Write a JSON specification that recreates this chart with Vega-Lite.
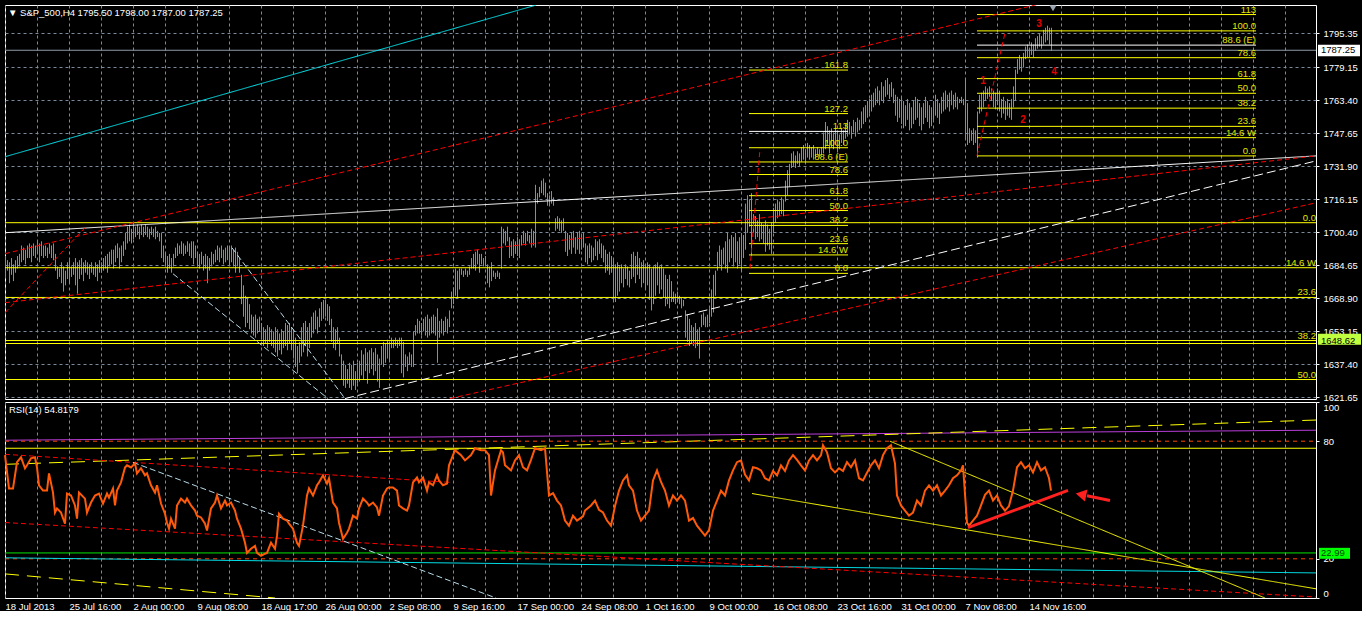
{
"$schema":"https://vega.github.io/schema/vega-lite/v6.json",
"background":"#000000",
"padding":{"left":0,"top":4,"right":0,"bottom":0},
"spacing":3,
"bounds":"flush",
"config":{
 "view":{"stroke":"#ffffff","strokeWidth":1},
 "axis":{"labelFont":"Liberation Sans","labelFontSize":9.5,"labelColor":"#ffffff","tickColor":"#ffffff","domain":false,"title":null,"gridColor":"#7a8a9a","gridDash":[3,3],"gridWidth":1,"gridOpacity":1},
 "text":{"font":"Liberation Sans","fontSize":9.5}
},
"datasets":{
"bars":[{"i":0,"p":1679,"h":1689},{"i":1,"p":1682,"h":1687},{"i":2,"p":1676,"h":1686},{"i":3,"p":1680,"h":1688},{"i":4,"p":1677,"h":1685},{"i":5,"p":1681,"h":1687},{"i":6,"p":1683,"h":1689},{"i":7,"p":1684,"h":1690},{"i":8,"p":1686,"h":1694},{"i":9,"p":1687,"h":1693},
{"i":10,"p":1685,"h":1692},{"i":11,"p":1688,"h":1694},{"i":12,"p":1688,"h":1695},{"i":13,"p":1686,"h":1694},{"i":14,"p":1689,"h":1695},{"i":15,"p":1688,"h":1694},{"i":16,"p":1690,"h":1696},{"i":17,"p":1686,"h":1695},{"i":18,"p":1689,"h":1696},{"i":19,"p":1688,"h":1694},
{"i":20,"p":1689,"h":1694},{"i":21,"p":1688,"h":1693},{"i":22,"p":1690,"h":1695},{"i":23,"p":1688,"h":1694},{"i":24,"p":1687,"h":1695},{"i":25,"p":1682,"h":1690},{"i":26,"p":1678,"h":1684},{"i":27,"p":1679,"h":1683},{"i":28,"p":1676,"h":1686},{"i":29,"p":1672,"h":1684},
{"i":30,"p":1675,"h":1682},{"i":31,"p":1678,"h":1686},{"i":32,"p":1676,"h":1687},{"i":33,"p":1679,"h":1684},{"i":34,"p":1680,"h":1686},{"i":35,"p":1675,"h":1688},{"i":36,"p":1671,"h":1686},{"i":37,"p":1678,"h":1687},{"i":38,"p":1680,"h":1688},{"i":39,"p":1677,"h":1686},
{"i":40,"p":1681,"h":1687},{"i":41,"p":1680,"h":1686},{"i":42,"p":1678,"h":1685},{"i":43,"p":1681,"h":1686},{"i":44,"p":1680,"h":1684},{"i":45,"p":1679,"h":1686},{"i":46,"p":1677,"h":1685},{"i":47,"p":1681,"h":1687},{"i":48,"p":1681,"h":1686},{"i":49,"p":1682,"h":1688},
{"i":50,"p":1683,"h":1689},{"i":51,"p":1681,"h":1690},{"i":52,"p":1684,"h":1691},{"i":53,"p":1685,"h":1692},{"i":54,"p":1683,"h":1692},{"i":55,"p":1686,"h":1694},{"i":56,"p":1688,"h":1695},{"i":57,"p":1683,"h":1693},{"i":58,"p":1686,"h":1694},{"i":59,"p":1689,"h":1696},
{"i":60,"p":1692,"h":1700},{"i":61,"p":1695,"h":1703},{"i":62,"p":1696,"h":1704},{"i":63,"p":1695,"h":1702},{"i":64,"p":1697,"h":1704},{"i":65,"p":1698,"h":1703},{"i":66,"p":1699,"h":1704},{"i":67,"p":1697,"h":1703},{"i":68,"p":1699,"h":1704},{"i":69,"p":1698,"h":1703},
{"i":70,"p":1699,"h":1704},{"i":71,"p":1698,"h":1703},{"i":72,"p":1697,"h":1702},{"i":73,"p":1699,"h":1703},{"i":74,"p":1698,"h":1702},{"i":75,"p":1697,"h":1703},{"i":76,"p":1698,"h":1701},{"i":77,"p":1696,"h":1700},{"i":78,"p":1688,"h":1700},{"i":79,"p":1686,"h":1694},
{"i":80,"p":1684,"h":1690},{"i":81,"p":1681,"h":1689},{"i":82,"p":1683,"h":1690},{"i":83,"p":1681,"h":1688},{"i":84,"p":1684,"h":1690},{"i":85,"p":1688,"h":1693},{"i":86,"p":1689,"h":1695},{"i":87,"p":1690,"h":1694},{"i":88,"p":1690,"h":1696},{"i":89,"p":1689,"h":1695},
{"i":90,"p":1690,"h":1694},{"i":91,"p":1691,"h":1696},{"i":92,"p":1689,"h":1695},{"i":93,"p":1688,"h":1696},{"i":94,"p":1685,"h":1696},{"i":95,"p":1688,"h":1694},{"i":96,"p":1684,"h":1691},{"i":97,"p":1683,"h":1690},{"i":98,"p":1685,"h":1691},{"i":99,"p":1682,"h":1689},
{"i":100,"p":1683,"h":1690},{"i":101,"p":1676,"h":1689},{"i":102,"p":1682,"h":1688},{"i":103,"p":1684,"h":1691},{"i":104,"p":1685,"h":1690},{"i":105,"p":1686,"h":1692},{"i":106,"p":1687,"h":1694},{"i":107,"p":1686,"h":1693},{"i":108,"p":1688,"h":1694},{"i":109,"p":1685,"h":1692},
{"i":110,"p":1686,"h":1693},{"i":111,"p":1687,"h":1694},{"i":112,"p":1685,"h":1693},{"i":113,"p":1686,"h":1694},{"i":114,"p":1684,"h":1692},{"i":115,"p":1681,"h":1693},{"i":116,"p":1684,"h":1691},{"i":117,"p":1681,"h":1688},{"i":118,"p":1666,"h":1680},{"i":119,"p":1660,"h":1675},
{"i":120,"p":1655,"h":1670},{"i":121,"p":1657,"h":1669},{"i":122,"p":1654,"h":1666},{"i":123,"p":1652,"h":1661},{"i":124,"p":1651,"h":1660},{"i":125,"p":1650,"h":1661},{"i":126,"p":1652,"h":1659},{"i":127,"p":1653,"h":1660},{"i":128,"p":1649,"h":1657},{"i":129,"p":1646,"h":1655},
{"i":130,"p":1647,"h":1654},{"i":131,"p":1645,"h":1656},{"i":132,"p":1648,"h":1655},{"i":133,"p":1646,"h":1654},{"i":134,"p":1645,"h":1653},{"i":135,"p":1643,"h":1655},{"i":136,"p":1641,"h":1654},{"i":137,"p":1644,"h":1652},{"i":138,"p":1642,"h":1654},{"i":139,"p":1645,"h":1653},
{"i":140,"p":1646,"h":1657},{"i":141,"p":1644,"h":1656},{"i":142,"p":1647,"h":1657},{"i":143,"p":1644,"h":1655},{"i":144,"p":1640,"h":1654},{"i":145,"p":1636,"h":1650},{"i":146,"p":1633,"h":1646},{"i":147,"p":1638,"h":1648},{"i":148,"p":1641,"h":1655},{"i":149,"p":1643,"h":1657},
{"i":150,"p":1646,"h":1658},{"i":151,"p":1641,"h":1655},{"i":152,"p":1645,"h":1657},{"i":153,"p":1650,"h":1660},{"i":154,"p":1652,"h":1662},{"i":155,"p":1654,"h":1663},{"i":156,"p":1652,"h":1660},{"i":157,"p":1655,"h":1664},{"i":158,"p":1658,"h":1667},{"i":159,"p":1659,"h":1668},
{"i":160,"p":1660,"h":1668},{"i":161,"p":1658,"h":1666},{"i":162,"p":1656,"h":1665},{"i":163,"p":1648,"h":1659},{"i":164,"p":1645,"h":1655},{"i":165,"p":1644,"h":1654},{"i":166,"p":1647,"h":1655},{"i":167,"p":1641,"h":1650},{"i":168,"p":1630,"h":1642},{"i":169,"p":1627,"h":1639},
{"i":170,"p":1626,"h":1637},{"i":171,"p":1628,"h":1635},{"i":172,"p":1626,"h":1638},{"i":173,"p":1625,"h":1637},{"i":174,"p":1627,"h":1639},{"i":175,"p":1625,"h":1634},{"i":176,"p":1628,"h":1638},{"i":177,"p":1629,"h":1639},{"i":178,"p":1632,"h":1644},{"i":179,"p":1630,"h":1642},
{"i":180,"p":1634,"h":1645},{"i":181,"p":1628,"h":1643},{"i":182,"p":1633,"h":1644},{"i":183,"p":1635,"h":1645},{"i":184,"p":1632,"h":1643},{"i":185,"p":1634,"h":1645},{"i":186,"p":1629,"h":1642},{"i":187,"p":1626,"h":1640},{"i":188,"p":1637,"h":1646},{"i":189,"p":1636,"h":1648},
{"i":190,"p":1638,"h":1647},{"i":191,"p":1640,"h":1649},{"i":192,"p":1639,"h":1648},{"i":193,"p":1645,"h":1650},{"i":194,"p":1645,"h":1649},{"i":195,"p":1646,"h":1650},{"i":196,"p":1645,"h":1649},{"i":197,"p":1646,"h":1650},{"i":198,"p":1633,"h":1650},{"i":199,"p":1631,"h":1648},
{"i":200,"p":1636,"h":1642},{"i":201,"p":1634,"h":1641},{"i":202,"p":1637,"h":1643},{"i":203,"p":1636,"h":1642},{"i":204,"p":1636,"h":1653},{"i":205,"p":1651,"h":1656},{"i":206,"p":1652,"h":1659},{"i":207,"p":1652,"h":1658},{"i":208,"p":1651,"h":1657},{"i":209,"p":1653,"h":1659},
{"i":210,"p":1651,"h":1660},{"i":211,"p":1650,"h":1661},{"i":212,"p":1651,"h":1659},{"i":213,"p":1652,"h":1660},{"i":214,"p":1652,"h":1661},{"i":215,"p":1651,"h":1660},{"i":216,"p":1638,"h":1664},{"i":217,"p":1650,"h":1658},{"i":218,"p":1652,"h":1659},{"i":219,"p":1651,"h":1658},
{"i":220,"p":1653,"h":1660},{"i":221,"p":1652,"h":1659},{"i":222,"p":1655,"h":1663},{"i":223,"p":1664,"h":1672},{"i":224,"p":1666,"h":1674},{"i":225,"p":1670,"h":1683},{"i":226,"p":1669,"h":1682},{"i":227,"p":1673,"h":1683},{"i":228,"p":1680,"h":1683},{"i":229,"p":1679,"h":1682},
{"i":230,"p":1680,"h":1683},{"i":231,"p":1679,"h":1682},{"i":232,"p":1680,"h":1684},{"i":233,"p":1683,"h":1688},{"i":234,"p":1683,"h":1690},{"i":235,"p":1682,"h":1691},{"i":236,"p":1685,"h":1692},{"i":237,"p":1681,"h":1690},{"i":238,"p":1685,"h":1690},{"i":239,"p":1684,"h":1688},
{"i":240,"p":1685,"h":1689},{"i":241,"p":1676,"h":1685},{"i":242,"p":1674,"h":1684},{"i":243,"p":1677,"h":1686},{"i":244,"p":1679,"h":1682},{"i":245,"p":1678,"h":1681},{"i":246,"p":1679,"h":1682},{"i":247,"p":1678,"h":1681},{"i":248,"p":1683,"h":1703},{"i":249,"p":1695,"h":1702},
{"i":250,"p":1694,"h":1701},{"i":251,"p":1696,"h":1703},{"i":252,"p":1688,"h":1698},{"i":253,"p":1689,"h":1696},{"i":254,"p":1688,"h":1697},{"i":255,"p":1690,"h":1696},{"i":256,"p":1689,"h":1698},{"i":257,"p":1688,"h":1697},{"i":258,"p":1694,"h":1699},{"i":259,"p":1695,"h":1701},
{"i":260,"p":1694,"h":1700},{"i":261,"p":1696,"h":1701},{"i":262,"p":1695,"h":1699},{"i":263,"p":1693,"h":1702},{"i":264,"p":1694,"h":1701},{"i":265,"p":1693,"h":1723},{"i":266,"p":1714,"h":1719},{"i":267,"p":1717,"h":1722},{"i":268,"p":1719,"h":1725},{"i":269,"p":1718,"h":1726},
{"i":270,"p":1717,"h":1724},{"i":271,"p":1713,"h":1719},{"i":272,"p":1713,"h":1718},{"i":273,"p":1714,"h":1720},{"i":274,"p":1713,"h":1717},{"i":275,"p":1701,"h":1707},{"i":276,"p":1702,"h":1708},{"i":277,"p":1701,"h":1707},{"i":278,"p":1700,"h":1706},{"i":279,"p":1701,"h":1707},
{"i":280,"p":1691,"h":1701},{"i":281,"p":1689,"h":1700},{"i":282,"p":1692,"h":1699},{"i":283,"p":1690,"h":1700},{"i":284,"p":1693,"h":1701},{"i":285,"p":1690,"h":1698},{"i":286,"p":1692,"h":1700},{"i":287,"p":1690,"h":1701},{"i":288,"p":1692,"h":1699},{"i":289,"p":1693,"h":1700},
{"i":290,"p":1686,"h":1695},{"i":291,"p":1685,"h":1694},{"i":292,"p":1688,"h":1695},{"i":293,"p":1686,"h":1694},{"i":294,"p":1687,"h":1693},{"i":295,"p":1689,"h":1697},{"i":296,"p":1687,"h":1696},{"i":297,"p":1690,"h":1697},{"i":298,"p":1688,"h":1695},{"i":299,"p":1686,"h":1694},
{"i":300,"p":1681,"h":1692},{"i":301,"p":1682,"h":1690},{"i":302,"p":1680,"h":1691},{"i":303,"p":1681,"h":1689},{"i":304,"p":1668,"h":1687},{"i":305,"p":1667,"h":1685},{"i":306,"p":1670,"h":1686},{"i":307,"p":1672,"h":1684},{"i":308,"p":1676,"h":1685},{"i":309,"p":1674,"h":1683},
{"i":310,"p":1678,"h":1685},{"i":311,"p":1675,"h":1684},{"i":312,"p":1674,"h":1682},{"i":313,"p":1678,"h":1690},{"i":314,"p":1679,"h":1691},{"i":315,"p":1676,"h":1689},{"i":316,"p":1680,"h":1691},{"i":317,"p":1678,"h":1688},{"i":318,"p":1674,"h":1686},{"i":319,"p":1676,"h":1687},
{"i":320,"p":1673,"h":1685},{"i":321,"p":1675,"h":1686},{"i":322,"p":1668,"h":1685},{"i":323,"p":1663,"h":1683},{"i":324,"p":1666,"h":1684},{"i":325,"p":1670,"h":1685},{"i":326,"p":1675,"h":1686},{"i":327,"p":1671,"h":1684},{"i":328,"p":1673,"h":1685},{"i":329,"p":1669,"h":1683},
{"i":330,"p":1665,"h":1680},{"i":331,"p":1666,"h":1678},{"i":332,"p":1664,"h":1680},{"i":333,"p":1667,"h":1677},{"i":334,"p":1667,"h":1672},{"i":335,"p":1666,"h":1671},{"i":336,"p":1667,"h":1672},{"i":337,"p":1666,"h":1670},{"i":338,"p":1664,"h":1669},{"i":339,"p":1665,"h":1668},
{"i":340,"p":1650,"h":1663},{"i":341,"p":1648,"h":1661},{"i":342,"p":1646,"h":1659},{"i":343,"p":1647,"h":1656},{"i":344,"p":1646,"h":1655},{"i":345,"p":1645,"h":1657},{"i":346,"p":1646,"h":1654},{"i":347,"p":1640,"h":1655},{"i":348,"p":1655,"h":1661},{"i":349,"p":1656,"h":1662},
{"i":350,"p":1655,"h":1660},{"i":351,"p":1655,"h":1661},{"i":352,"p":1657,"h":1664},{"i":353,"p":1660,"h":1673},{"i":354,"p":1662,"h":1680},{"i":355,"p":1670,"h":1682},{"i":356,"p":1682,"h":1691},{"i":357,"p":1684,"h":1694},{"i":358,"p":1682,"h":1692},{"i":359,"p":1685,"h":1693},
{"i":360,"p":1683,"h":1696},{"i":361,"p":1681,"h":1700},{"i":362,"p":1686,"h":1697},{"i":363,"p":1688,"h":1699},{"i":364,"p":1684,"h":1698},{"i":365,"p":1686,"h":1700},{"i":366,"p":1683,"h":1696},{"i":367,"p":1685,"h":1698},{"i":368,"p":1682,"h":1700},{"i":369,"p":1688,"h":1699},
{"i":370,"p":1692,"h":1714},{"i":371,"p":1700,"h":1718},{"i":372,"p":1703,"h":1716},{"i":373,"p":1689,"h":1719},{"i":374,"p":1700,"h":1709},{"i":375,"p":1697,"h":1708},{"i":376,"p":1698,"h":1706},{"i":377,"p":1696,"h":1709},{"i":378,"p":1697,"h":1705},{"i":379,"p":1695,"h":1704},
{"i":380,"p":1691,"h":1706},{"i":381,"p":1694,"h":1704},{"i":382,"p":1692,"h":1702},{"i":383,"p":1690,"h":1705},{"i":384,"p":1700,"h":1712},{"i":385,"p":1705,"h":1714},{"i":386,"p":1707,"h":1716},{"i":387,"p":1708,"h":1715},{"i":388,"p":1709,"h":1717},{"i":389,"p":1708,"h":1716},
{"i":390,"p":1715,"h":1725},{"i":391,"p":1718,"h":1730},{"i":392,"p":1722,"h":1733},{"i":393,"p":1731,"h":1738},{"i":394,"p":1732,"h":1739},{"i":395,"p":1731,"h":1737},{"i":396,"p":1733,"h":1739},{"i":397,"p":1732,"h":1738},{"i":398,"p":1734,"h":1741},{"i":399,"p":1735,"h":1742},
{"i":400,"p":1734,"h":1740},{"i":401,"p":1736,"h":1743},{"i":402,"p":1735,"h":1742},{"i":403,"p":1736,"h":1741},{"i":404,"p":1735,"h":1742},{"i":405,"p":1736,"h":1740},{"i":406,"p":1737,"h":1741},{"i":407,"p":1736,"h":1740},{"i":408,"p":1737,"h":1741},{"i":409,"p":1738,"h":1748},
{"i":410,"p":1740,"h":1753},{"i":411,"p":1743,"h":1751},{"i":412,"p":1738,"h":1749},{"i":413,"p":1741,"h":1750},{"i":414,"p":1740,"h":1748},{"i":415,"p":1742,"h":1750},{"i":416,"p":1739,"h":1749},{"i":417,"p":1740,"h":1747},{"i":418,"p":1743,"h":1750},{"i":419,"p":1742,"h":1749},
{"i":420,"p":1745,"h":1752},{"i":421,"p":1746,"h":1754},{"i":422,"p":1747,"h":1753},{"i":423,"p":1745,"h":1751},{"i":424,"p":1748,"h":1754},{"i":425,"p":1746,"h":1753},{"i":426,"p":1748,"h":1755},{"i":427,"p":1749,"h":1754},{"i":428,"p":1750,"h":1758},{"i":429,"p":1752,"h":1760},
{"i":430,"p":1753,"h":1761},{"i":431,"p":1755,"h":1763},{"i":432,"p":1757,"h":1764},{"i":433,"p":1758,"h":1766},{"i":434,"p":1760,"h":1767},{"i":435,"p":1761,"h":1769},{"i":436,"p":1762,"h":1770},{"i":437,"p":1761,"h":1768},{"i":438,"p":1763,"h":1772},{"i":439,"p":1762,"h":1770},
{"i":440,"p":1765,"h":1773},{"i":441,"p":1766,"h":1774},{"i":442,"p":1764,"h":1771},{"i":443,"p":1765,"h":1772},{"i":444,"p":1762,"h":1769},{"i":445,"p":1756,"h":1766},{"i":446,"p":1753,"h":1765},{"i":447,"p":1755,"h":1764},{"i":448,"p":1752,"h":1765},{"i":449,"p":1750,"h":1763},
{"i":450,"p":1751,"h":1761},{"i":451,"p":1754,"h":1764},{"i":452,"p":1749,"h":1762},{"i":453,"p":1750,"h":1760},{"i":454,"p":1752,"h":1763},{"i":455,"p":1754,"h":1765},{"i":456,"p":1755,"h":1764},{"i":457,"p":1751,"h":1762},{"i":458,"p":1749,"h":1760},{"i":459,"p":1752,"h":1762},
{"i":460,"p":1755,"h":1765},{"i":461,"p":1753,"h":1763},{"i":462,"p":1750,"h":1761},{"i":463,"p":1751,"h":1760},{"i":464,"p":1754,"h":1763},{"i":465,"p":1756,"h":1766},{"i":466,"p":1755,"h":1764},{"i":467,"p":1752,"h":1762},{"i":468,"p":1757,"h":1765},{"i":469,"p":1758,"h":1767},
{"i":470,"p":1759,"h":1768},{"i":471,"p":1760,"h":1766},{"i":472,"p":1758,"h":1767},{"i":473,"p":1761,"h":1768},{"i":474,"p":1759,"h":1766},{"i":475,"p":1760,"h":1767},{"i":476,"p":1759,"h":1765},{"i":477,"p":1762,"h":1764},{"i":478,"p":1762,"h":1765},{"i":479,"p":1761,"h":1764},
{"i":480,"p":1745,"h":1774},{"i":481,"p":1742,"h":1762},{"i":482,"p":1743,"h":1750},{"i":483,"p":1744,"h":1749},{"i":484,"p":1742,"h":1750},{"i":485,"p":1743,"h":1749},{"i":486,"p":1736,"h":1758},{"i":487,"p":1757,"h":1766},{"i":488,"p":1758,"h":1767},{"i":489,"p":1760,"h":1768},
{"i":490,"p":1763,"h":1770},{"i":491,"p":1764,"h":1769},{"i":492,"p":1765,"h":1770},{"i":493,"p":1763,"h":1769},{"i":494,"p":1760,"h":1768},{"i":495,"p":1759,"h":1767},{"i":496,"p":1761,"h":1769},{"i":497,"p":1758,"h":1768},{"i":498,"p":1755,"h":1764},{"i":499,"p":1757,"h":1765},
{"i":500,"p":1754,"h":1763},{"i":501,"p":1756,"h":1764},{"i":502,"p":1755,"h":1762},{"i":503,"p":1754,"h":1764},{"i":504,"p":1760,"h":1770},{"i":505,"p":1763,"h":1778},{"i":506,"p":1776,"h":1783},{"i":507,"p":1778,"h":1785},{"i":508,"p":1777,"h":1784},{"i":509,"p":1779,"h":1786},
{"i":510,"p":1783,"h":1789},{"i":511,"p":1784,"h":1790},{"i":512,"p":1784,"h":1788},{"i":513,"p":1785,"h":1791},{"i":514,"p":1784,"h":1790},{"i":515,"p":1787,"h":1793},{"i":516,"p":1788,"h":1794},{"i":517,"p":1789,"h":1795},{"i":518,"p":1788,"h":1794},{"i":519,"p":1790,"h":1797},
{"i":520,"p":1791,"h":1798},{"i":521,"p":1792,"h":1799},{"i":522,"p":1790,"h":1798},{"i":523,"p":1787,"h":1798}],
"pl":[
{"id":"g","s":"gray","i":0,"p":1787.25},{"id":"g","s":"gray","i":655.5,"p":1787.25},
{"id":"c1","s":"cyan","i":0,"p":1736.4},{"id":"c1","s":"cyan","i":265.5,"p":1808.8},
{"id":"w1","s":"white","i":0,"p":1700.1},{"id":"w1","s":"white","i":655.5,"p":1736.8},
{"id":"w2","s":"wdash","i":170,"p":1620.9},{"id":"w2","s":"wdash","i":655.5,"p":1734.4},
{"id":"b1","s":"blue","i":84,"p":1680.5},{"id":"b1","s":"blue","i":161.5,"p":1620.9},
{"id":"b2","s":"blue","i":113.5,"p":1692.9},{"id":"b2","s":"blue","i":170,"p":1620.9},
{"id":"r1","s":"red","i":0,"p":1690.1},{"id":"r1","s":"red","i":517.5,"p":1809.4},
{"id":"r2","s":"red","i":0,"p":1661.9},{"id":"r2","s":"red","i":40,"p":1702.5},
{"id":"r3","s":"red","i":0,"p":1666.7},{"id":"r3","s":"red","i":655.5,"p":1736.8},
{"id":"r4","s":"red","i":222.5,"p":1620.9},{"id":"r4","s":"red","i":655.5,"p":1714.4},
{"id":"r5","s":"red","i":372.5,"p":1682.9},{"id":"r5","s":"red","i":377.5,"p":1740.2},
{"id":"r6","s":"red","i":486,"p":1736.8},{"id":"r6","s":"red","i":500,"p":1795.5}],
"fb":[
{"i":0,"i2":655.5,"p":1704.9,"t":"0.0","c":"y"},{"i":0,"i2":655.5,"p":1683.4,"t":"14.6 W","c":"y"},{"i":0,"i2":655.5,"p":1669.2,"t":"23.6","c":"y"},{"i":0,"i2":655.5,"p":1648.62,"t":"38.2","c":"y"},{"i":0,"i2":655.5,"p":1647.2,"t":"","c":"y"},{"i":0,"i2":655.5,"p":1630.0,"t":"50.0","c":"y"},
{"i":372,"i2":421.5,"p":1680.7,"t":"0.0","c":"y"},{"i":372,"i2":421.5,"p":1689.5,"t":"14.6 W","c":"y"},{"i":372,"i2":421.5,"p":1694.9,"t":"23.6","c":"y"},{"i":372,"i2":421.5,"p":1703.6,"t":"38.2","c":"y"},{"i":372,"i2":421.5,"p":1710.7,"t":"50.0","c":"y"},{"i":372,"i2":421.5,"p":1717.8,"t":"61.8","c":"y"},{"i":372,"i2":421.5,"p":1727.9,"t":"78.6","c":"y"},{"i":372,"i2":421.5,"p":1733.9,"t":"88.6 (E)","c":"y"},{"i":372,"i2":421.5,"p":1740.7,"t":"100.0","c":"y"},{"i":372,"i2":421.5,"p":1748.5,"t":"113","c":"w"},{"i":372,"i2":421.5,"p":1757.0,"t":"127.2","c":"y"},{"i":372,"i2":421.5,"p":1777.8,"t":"161.8","c":"y"},
{"i":486,"i2":625.5,"p":1736.8,"t":"0.0","c":"y"},{"i":486,"i2":625.5,"p":1745.5,"t":"14.6 W","c":"y"},{"i":486,"i2":625.5,"p":1750.9,"t":"23.6","c":"y"},{"i":486,"i2":625.5,"p":1759.6,"t":"38.2","c":"y"},{"i":486,"i2":625.5,"p":1766.7,"t":"50.0","c":"y"},{"i":486,"i2":625.5,"p":1773.7,"t":"61.8","c":"y"},{"i":486,"i2":625.5,"p":1783.7,"t":"78.6","c":"y"},{"i":486,"i2":625.5,"p":1789.7,"t":"88.6 (E)","c":"w"},{"i":486,"i2":625.5,"p":1796.5,"t":"100.0","c":"y"},{"i":486,"i2":625.5,"p":1804.3,"t":"113","c":"y"}],
"rl":[
{"id":"pu","s":"purple","i":0,"p":80.5},{"id":"pu","s":"purple","i":655.5,"p":85.6},
{"id":"ys","s":"yellow","i":0,"p":76.4},{"id":"ys","s":"yellow","i":655.5,"p":76.4},
{"id":"yd","s":"ydash","i":0,"p":68.2},{"id":"yd","s":"ydash","i":655.5,"p":90.8},
{"id":"gr","s":"green","i":0,"p":22.99},{"id":"gr","s":"green","i":655.5,"p":22.99},
{"id":"l80","s":"level","i":0,"p":80},{"id":"l80","s":"level","i":655.5,"p":80},
{"id":"l20","s":"level","i":0,"p":20},{"id":"l20","s":"level","i":655.5,"p":20},
{"id":"cy","s":"cyan","i":0,"p":20.5},{"id":"cy","s":"cyan","i":655.5,"p":12.8},
{"id":"rd1","s":"red","i":0,"p":73.3},{"id":"rd1","s":"red","i":222.5,"p":59.0},
{"id":"rd2","s":"red","i":0,"p":38.5},{"id":"rd2","s":"red","i":655.5,"p":0.5},
{"id":"wb","s":"blue","i":64,"p":69.2},{"id":"wb","s":"blue","i":245.5,"p":0},
{"id":"yb","s":"ydash","i":0,"p":12.3},{"id":"yb","s":"ydash","i":135,"p":0},
{"id":"y1","s":"yellow","i":373.5,"p":53.3},{"id":"y1","s":"yellow","i":656,"p":4.6},
{"id":"y2","s":"yellow","i":442.5,"p":80},{"id":"y2","s":"yellow","i":630,"p":0}],
"rsi":[{"i":0,"p":72.9},{"i":2,"p":55.9},{"i":4,"p":55.9},{"i":5,"p":62.6},{"i":6,"p":69.3},{"i":8,"p":71.8},{"i":10,"p":66.2},{"i":11,"p":67.7},{"i":13,"p":71.3},{"i":15,"p":71.8},{"i":16,"p":66.6},{"i":17,"p":57.5},{"i":19,"p":54.8},{"i":21,"p":54.8},{"i":22,"p":63.6},{"i":24,"p":53.8},{"i":25,"p":43.6},{"i":26,"p":45.7},{"i":28,"p":43.6},{"i":30,"p":37.9},{"i":31,"p":53.3},{"i":33,"p":52.3},{"i":35,"p":47.2},{"i":36,"p":40.5},{"i":37,"p":53.8},{"i":40,"p":50.7},{"i":41,"p":43.6},{"i":43,"p":48.7},{"i":45,"p":52.3},{"i":47,"p":53.3},{"i":49,"p":48.2},{"i":51,"p":53.3},{"i":52,"p":51.2},{"i":54,"p":55.9},{"i":55,"p":47.2},{"i":56,"p":54.8},{"i":58,"p":59.0},{"i":60,"p":66.6},{"i":61,"p":67.7},{"i":63,"p":66.6},{"i":65,"p":68.7},{"i":66,"p":63.6},{"i":68,"p":66.2},{"i":70,"p":62.6},{"i":71,"p":63.6},{"i":73,"p":57.5},{"i":75,"p":53.8},{"i":76,"p":57.5},{"i":78,"p":48.2},{"i":80,"p":43.0},{"i":81,"p":38.4},{"i":82,"p":35.4},{"i":83,"p":40.5},{"i":85,"p":35.4},{"i":86,"p":47.2},{"i":88,"p":50.7},{"i":90,"p":48.7},{"i":91,"p":50.7},{"i":93,"p":47.2},{"i":95,"p":44.6},{"i":96,"p":42.0},{"i":98,"p":41.1},{"i":100,"p":37.9},{"i":101,"p":34.4},{"i":103,"p":45.7},{"i":105,"p":48.7},{"i":106,"p":52.3},{"i":108,"p":45.7},{"i":110,"p":49.7},{"i":111,"p":47.2},{"i":113,"p":48.7},{"i":115,"p":44.6},{"i":116,"p":40.5},{"i":118,"p":35.4},{"i":120,"p":28.2},{"i":121,"p":23.0},{"i":123,"p":25.1},{"i":125,"p":26.6},{"i":126,"p":23.0},{"i":128,"p":21.5},{"i":130,"p":22.6},{"i":131,"p":23.0},{"i":133,"p":28.2},{"i":135,"p":25.1},{"i":136,"p":31.8},{"i":137,"p":43.0},{"i":139,"p":40.5},{"i":141,"p":39.5},{"i":142,"p":37.9},{"i":144,"p":35.4},{"i":146,"p":28.2},{"i":147,"p":26.6},{"i":149,"p":36.9},{"i":151,"p":52.3},{"i":152,"p":55.9},{"i":154,"p":52.3},{"i":156,"p":57.5},{"i":157,"p":59.0},{"i":159,"p":62.6},{"i":161,"p":58.4},{"i":162,"p":61.1},{"i":164,"p":48.7},{"i":166,"p":45.7},{"i":167,"p":38.4},{"i":169,"p":30.2},{"i":171,"p":33.3},{"i":172,"p":35.4},{"i":174,"p":42.0},{"i":176,"p":40.5},{"i":177,"p":45.7},{"i":179,"p":50.7},{"i":181,"p":48.7},{"i":182,"p":47.2},{"i":184,"p":48.7},{"i":186,"p":46.2},{"i":187,"p":42.0},{"i":189,"p":52.3},{"i":191,"p":55.9},{"i":192,"p":56.4},{"i":194,"p":56.4},{"i":196,"p":54.8},{"i":197,"p":47.2},{"i":199,"p":45.7},{"i":201,"p":44.6},{"i":202,"p":47.2},{"i":204,"p":59.0},{"i":206,"p":61.5},{"i":207,"p":59.0},{"i":209,"p":61.5},{"i":211,"p":54.8},{"i":212,"p":59.0},{"i":214,"p":57.5},{"i":216,"p":62.6},{"i":217,"p":60.0},{"i":219,"p":57.5},{"i":221,"p":58.4},{"i":222,"p":67.7},
{"i":225,"p":75.4},{"i":228,"p":72.9},{"i":230,"p":70.2},{"i":233,"p":72.9},{"i":235,"p":76.4},{"i":238,"p":75.4},{"i":240,"p":75.4},{"i":242,"p":72.9},{"i":243,"p":52.3},{"i":245,"p":65.1},{"i":248,"p":75.4},{"i":249,"p":74.3},{"i":250,"p":67.7},{"i":253,"p":65.1},{"i":255,"p":70.2},{"i":257,"p":72.9},{"i":259,"p":66.7},{"i":261,"p":65.1},{"i":263,"p":70.5},{"i":265,"p":76.4},{"i":268,"p":75.4},{"i":270,"p":76.4},{"i":272,"p":52.3},{"i":274,"p":53.5},{"i":276,"p":49.7},{"i":278,"p":47.2},{"i":280,"p":39.5},{"i":282,"p":36.9},{"i":284,"p":42.0},{"i":286,"p":39.5},{"i":289,"p":41.7},{"i":290,"p":44.6},{"i":293,"p":47.2},{"i":295,"p":49.7},{"i":297,"p":45.0},{"i":299,"p":43.6},{"i":301,"p":39.5},{"i":303,"p":36.9},{"i":305,"p":46.9},{"i":307,"p":54.8},{"i":309,"p":60.0},{"i":311,"p":62.6},{"i":312,"p":57.5},{"i":314,"p":54.8},{"i":316,"p":44.6},{"i":318,"p":39.5},{"i":320,"p":42.0},{"i":322,"p":44.6},{"i":324,"p":60.0},{"i":326,"p":65.1},{"i":328,"p":59.2},{"i":330,"p":54.8},{"i":332,"p":47.2},{"i":334,"p":52.3},{"i":336,"p":49.7},{"i":338,"p":52.3},{"i":340,"p":49.7},{"i":342,"p":39.5},{"i":344,"p":40.8},{"i":346,"p":36.9},{"i":348,"p":34.4},{"i":350,"p":31.8},{"i":352,"p":34.6},{"i":354,"p":44.6},{"i":356,"p":49.7},{"i":358,"p":54.8},{"i":360,"p":52.3},{"i":362,"p":60.0},{"i":364,"p":65.1},{"i":366,"p":69.3},{"i":368,"p":70.2},{"i":370,"p":63.0},{"i":372,"p":60.0},{"i":374,"p":66.7},{"i":376,"p":66.2},{"i":378,"p":65.1},{"i":380,"p":61.1},{"i":382,"p":60.0},{"i":384,"p":64.8},{"i":386,"p":62.6},{"i":388,"p":67.7},{"i":390,"p":64.8},{"i":392,"p":70.2},{"i":394,"p":72.9},{"i":396,"p":70.5},{"i":398,"p":67.7},{"i":400,"p":65.1},{"i":402,"p":70.2},{"i":404,"p":72.9},{"i":406,"p":70.2},{"i":408,"p":72.9},{"i":409,"p":77.9},{"i":411,"p":74.3},{"i":413,"p":66.2},{"i":415,"p":64.1},{"i":417,"p":66.2},{"i":419,"p":64.8},{"i":421,"p":69.3},{"i":423,"p":66.7},{"i":425,"p":70.2},{"i":427,"p":61.1},{"i":429,"p":60.0},{"i":431,"p":63.9},{"i":433,"p":67.7},{"i":435,"p":70.2},{"i":437,"p":66.2},{"i":439,"p":72.9},{"i":441,"p":76.4},{"i":443,"p":77.9},{"i":445,"p":68.6},{"i":446,"p":52.3},{"i":448,"p":47.2},{"i":450,"p":44.6},{"i":452,"p":42.0},{"i":454,"p":43.6},{"i":456,"p":49.7},{"i":458,"p":47.2},{"i":460,"p":54.8},{"i":462,"p":57.5},{"i":464,"p":54.8},{"i":466,"p":57.5},{"i":468,"p":52.3},{"i":470,"p":54.8},{"i":472,"p":57.5},{"i":474,"p":61.1},{"i":476,"p":62.6},{"i":478,"p":65.1},{"i":479,"p":67.7},{"i":481,"p":38.4},{"i":482,"p":36.9},{"i":484,"p":39.5},{"i":486,"p":42.0},{"i":488,"p":47.2},{"i":490,"p":52.6},{"i":492,"p":54.8},{"i":494,"p":49.7},{"i":496,"p":52.3},{"i":498,"p":47.2},{"i":500,"p":44.6},{"i":502,"p":46.9},{"i":504,"p":54.8},{"i":506,"p":66.7},{"i":508,"p":69.3},{"i":510,"p":66.2},{"i":512,"p":67.7},{"i":514,"p":64.1},{"i":516,"p":69.3},{"i":518,"p":65.1},{"i":520,"p":66.7},{"i":522,"p":61.1},{"i":523,"p":54.8}]
},
"vconcat":[
{
 "width":1311,"height":394,
 "encoding":{
  "x":{"field":"i","type":"quantitative","scale":{"domain":[0,655.5],"nice":false,"zero":false},
   "axis":{"values":[0,16,32,48,64,80,96,112,128,144,160,176,192,208,224,240,256,272,288,304,320,336,352,368,384,400,416,432,448,464,480,496,512,528,544,560,576,592,608,624,640],"grid":true,"labels":false,"ticks":false,"tickSize":0,"labelPadding":0,"minExtent":0,"maxExtent":0,"domain":false,"title":null}},
  "y":{"field":"p","type":"quantitative","scale":{"domain":[1620.7,1808.86],"nice":false,"zero":false},
   "axis":{"orient":"right","values":[1621.65,1637.4,1653.15,1668.9,1684.65,1700.4,1716.15,1731.9,1747.65,1763.4,1779.15,1795.35],"format":".2f","grid":true,"tickSize":3,"labelPadding":4,"title":null}}
 },
 "layer":[
  {"data":{"name":"bars"},"mark":{"type":"rule","color":"#32cd32","strokeWidth":1,"xOffset":0.5},"encoding":{"y2":{"field":"h"}}},
  {"data":{"name":"fb"},"mark":{"type":"rule","strokeWidth":1},"encoding":{"x2":{"field":"i2"},"color":{"condition":{"test":"datum.c=='w'","value":"#ffffff"},"value":"#ffff00"}}},
  {"data":{"name":"pl"},"mark":{"type":"line","strokeWidth":1,"clip":true},
   "encoding":{"detail":{"field":"id"},
    "color":{"field":"s","type":"nominal","legend":null,"scale":{"domain":["gray","cyan","white","wdash","blue","red","purple","yellow","ydash","green","level"],"range":["#8f9aa6","#00e5ee","#ffffff","#ffffff","#b8dcea","#ff0000","#c040e0","#ffff00","#ffff00","#00e600","#ff4500"]}},
    "strokeDash":{"field":"s","type":"nominal","legend":null,"scale":{"domain":["gray","cyan","white","wdash","blue","red","purple","yellow","ydash","green","level"],"range":[[1,0],[1,0],[1,0],[9,4],[6,3],[5,3],[1,0],[1,0],[14,8],[1,0],[4,4]]}}}},
  {"data":{"name":"fb"},"mark":{"type":"text","align":"right","baseline":"alphabetic","dy":-2,"color":"#e6e600"},
   "encoding":{"x":{"field":"i2","type":"quantitative","scale":{"domain":[0,655.5],"nice":false,"zero":false}},"text":{"field":"t"}}},
  {"data":{"values":[{"i":1.5,"p":1805.1,"t":"▼ S&P_500,H4  1795.50 1798.00 1787.00 1787.25"}]},"mark":{"type":"text","align":"left","baseline":"middle","color":"#ffffff"},"encoding":{"text":{"field":"t"}}},
  {"data":{"values":[{"i":489,"p":1772.6,"t":"1"},{"i":509,"p":1754.0,"t":"2"},{"i":517,"p":1799.8,"t":"3"},{"i":524.5,"p":1776.9,"t":"4"}]},"mark":{"type":"text","align":"center","baseline":"middle","color":"#e00000","fontWeight":"bold","fontSize":10},"encoding":{"text":{"field":"t"}}},
  {"data":{"values":[{"i":524,"p":1807.3}]},"mark":{"type":"point","shape":"triangle-down","filled":true,"size":50,"color":"#9aa5b1","opacity":1}},
  {"data":{"values":[{"i":656.5,"i2":677.5,"p":1784.4,"p2":1789.9,"t":"1787.25","v":1787.25},{"i":656.5,"i2":678,"p":1646.6,"p2":1651.9,"t":"1648.62","v":1648.62}]},
   "mark":{"type":"rect"},"encoding":{"x2":{"field":"i2"},"y2":{"field":"p2"},"color":{"condition":{"test":"datum.t=='1787.25'","value":"#ffffff"},"value":"#c0ff40"}}},
  {"data":{"values":[{"i":656.5,"t":"1787.25","v":1787.25},{"i":656.5,"t":"1648.62","v":1648.62}]},
   "mark":{"type":"text","align":"left","baseline":"middle","dx":3,"color":"#000000"},
   "encoding":{"y":{"field":"v","type":"quantitative","scale":{"domain":[1620.7,1808.86],"nice":false,"zero":false}},"text":{"field":"t"}}}
 ]
},
{
 "width":1311,"height":196,
 "encoding":{
  "x":{"field":"i","type":"quantitative","scale":{"domain":[0,655.5],"nice":false,"zero":false},
   "axis":{"values":[0,16,32,48,64,80,96,112,128,144,160,176,192,208,224,240,256,272,288,304,320,336,352,368,384,400,416,432,448,464,480,496,512,528,544,560,576,592,608,624,640],"grid":true,"ticks":false,"tickSize":0,"labelPadding":3,"labelAlign":"left","labelBaseline":"top","labelFlush":false,"labelOverlap":false,"domain":false,"title":null,
    "labelExpr":"(datum.value % 32 == 0 && datum.value <= 512) ? ['18 Jul 2013','25 Jul 16:00','2 Aug 00:00','9 Aug 08:00','18 Aug 17:00','26 Aug 00:00','2 Sep 08:00','9 Sep 16:00','17 Sep 00:00','24 Sep 08:00','1 Oct 16:00','9 Oct 00:00','16 Oct 08:00','23 Oct 16:00','31 Oct 00:00','7 Nov 08:00','14 Nov 16:00'][datum.value / 32] : ''"}},
  "y":{"field":"p","type":"quantitative","scale":{"domain":[0,100],"nice":false,"zero":false},
   "axis":{"orient":"right","values":[0,20,80,100],"grid":false,"tickSize":3,"labelPadding":4,"title":null,
    "labelBaseline":{"condition":[{"test":"datum.value==100","value":"top"},{"test":"datum.value==0","value":"bottom"}],"value":"middle"}}}
 },
 "layer":[
  {"data":{"name":"rl"},"mark":{"type":"line","strokeWidth":1,"clip":true},
   "encoding":{"detail":{"field":"id"},
    "color":{"field":"s","type":"nominal","legend":null,"scale":{"domain":["gray","cyan","white","wdash","blue","red","purple","yellow","ydash","green","level"],"range":["#8f9aa6","#00e5ee","#ffffff","#ffffff","#b8dcea","#ff0000","#c040e0","#ffff00","#ffff00","#00e600","#ff4500"]}},
    "strokeDash":{"field":"s","type":"nominal","legend":null,"scale":{"domain":["gray","cyan","white","wdash","blue","red","purple","yellow","ydash","green","level"],"range":[[1,0],[1,0],[1,0],[9,4],[6,3],[5,3],[1,0],[1,0],[14,8],[1,0],[4,4]]}}}},
  {"data":{"name":"rsi"},"mark":{"type":"line","color":"#ff5a0a","strokeWidth":2}},
  {"data":{"values":[{"id":"a","i":481.5,"p":35.9},{"id":"a","i":531.5,"p":54.9},{"id":"b","i":552.5,"p":49.7},{"id":"b","i":541,"p":52.2}]},"mark":{"type":"line","color":"#ff2020","strokeWidth":3},"encoding":{"detail":{"field":"id"}}},
  {"data":{"values":[{"i":538,"p":52.8}]},"mark":{"type":"point","shape":"triangle-left","filled":true,"size":150,"angle":12,"color":"#ff2020","opacity":1}},
  {"data":{"values":[{"i":2,"p":95.9,"t":"RSI(14) 54.8179"}]},"mark":{"type":"text","align":"left","baseline":"middle","color":"#ffffff"},"encoding":{"text":{"field":"t"}}},
  {"data":{"values":[{"i":657,"i2":672.5,"p":20.0,"p2":25.6}]},"mark":{"type":"rect","color":"#00ff00"},"encoding":{"x2":{"field":"i2"},"y2":{"field":"p2"}}},
  {"data":{"values":[{"i":657,"p":22.99,"t":"22.99"}]},"mark":{"type":"text","align":"left","baseline":"middle","dx":2,"color":"#004000"},"encoding":{"text":{"field":"t"}}}
 ]
}
]
}
